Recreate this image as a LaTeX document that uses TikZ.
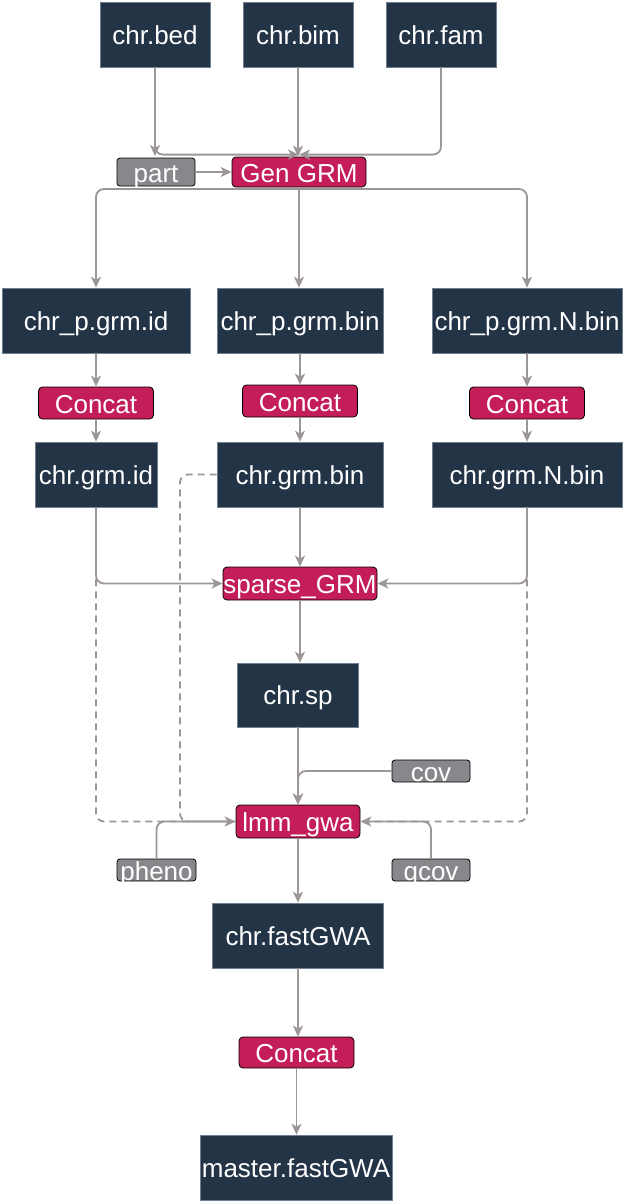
\documentclass[tikz,border=0pt]{standalone}
\usepackage{fontspec}
\setmainfont{Liberation Sans}
\usetikzlibrary{arrows.meta}
\definecolor{navy}{HTML}{243447}
\definecolor{mag}{HTML}{C41E5A}
\definecolor{gbox}{HTML}{88888C}
\definecolor{lnc}{HTML}{9C9696}
\definecolor{nborder}{HTML}{6F7F8F}
\tikzset{
  txt/.style={text=white, font=\fontsize{26}{28}\selectfont, inner sep=0pt},
  dbox/.style={txt, fill=navy, draw=nborder, line width=0.6pt, text height=19pt, text depth=0pt},
  pbox/.style={txt, fill=mag, draw=black, line width=0.8pt, rounded corners=4pt, text height=20pt, text depth=0pt},
  gbx/.style={txt, fill=gbox, draw=black, line width=0.8pt, rounded corners=3pt, text height=20pt, text depth=0pt},
  arr/.style={draw=lnc, line width=1.8pt, -{Stealth[length=11pt,width=10pt,inset=3pt]}, rounded corners=8pt},
  dsh/.style={draw=lnc, line width=1.8pt, dash pattern=on 7pt off 5pt, rounded corners=8pt},
}
\begin{document}
\begin{tikzpicture}[x=1pt,y=-1pt]
\useasboundingbox (0,0) rectangle (622,1203);
% nodes
\node[dbox, minimum width=110pt, minimum height=65pt] (bed) at (155,34.5) {chr.bed};
\node[dbox, minimum width=110pt, minimum height=65pt] (bim) at (298,34.5) {chr.bim};
\node[dbox, minimum width=110pt, minimum height=65pt] (fam) at (441,34.5) {chr.fam};
\node[gbx, minimum width=78pt, minimum height=28pt] (part) at (156,172) {part};
\node[pbox, minimum width=134pt, minimum height=30pt] (gen) at (299,172) {Gen GRM};
\node[dbox, minimum width=188pt, minimum height=65pt] (pid) at (96,320.5) {chr\_p.grm.id};
\node[dbox, minimum width=166pt, minimum height=65pt] (pbin) at (300,320.5) {chr\_p.grm.bin};
\node[dbox, minimum width=190pt, minimum height=65pt] (pnbin) at (527,320.5) {chr\_p.grm.N.bin};
\node[pbox, minimum width=115pt, minimum height=32pt] (c1) at (96,403) {Concat};
\node[pbox, minimum width=115pt, minimum height=32pt] (c2) at (300,401) {Concat};
\node[pbox, minimum width=115pt, minimum height=32pt] (c3) at (527,403) {Concat};
\node[dbox, minimum width=122pt, minimum height=65pt] (gid) at (96,474.5) {chr.grm.id};
\node[dbox, minimum width=166pt, minimum height=65pt] (gbin) at (300,474.5) {chr.grm.bin};
\node[dbox, minimum width=190pt, minimum height=65pt] (gnbin) at (527,474.5) {chr.grm.N.bin};
\node[pbox, minimum width=154pt, minimum height=33pt] (sparse) at (300,583.5) {sparse\_GRM};
\node[dbox, minimum width=121pt, minimum height=64pt] (sp) at (298,695) {chr.sp};
\node[gbx, minimum width=78pt, minimum height=22pt] (cov) at (431,771) {cov};
\node[pbox, minimum width=124pt, minimum height=33pt] (lmm) at (298,821.5) {lmm\_gwa};
\node[gbx, minimum width=79pt, minimum height=22pt] (pheno) at (156.5,870) {pheno};
\node[gbx, minimum width=78pt, minimum height=22pt] (qcov) at (431,870) {qcov};
\node[dbox, minimum width=171pt, minimum height=65pt] (fgwa) at (298,935.5) {chr.fastGWA};
\node[pbox, minimum width=115pt, minimum height=31pt] (c4) at (296.5,1052.5) {Concat};
\node[dbox, minimum width=192pt, minimum height=65pt] (master) at (296,1167.5) {master.fastGWA};
% connectors
\draw[arr] (bed.south) -- (bed.south |- 0,156);
\draw[arr] (bed.south) |- ([yshift=2pt]gen.north);
\draw[arr] (fam.south) |- ([yshift=2pt]gen.north);
\draw[arr] (bim.south) -- (bim.south |- gen.north);
\draw[arr] (part.east) -- (gen.west);
\draw[arr] (gen.south |- 0,189) -| (pid.north);
\draw[arr] (gen.south |- 0,189) -| (pnbin.north);
\draw[arr] (gen.south) -- (gen.south |- pbin.north);
\draw[arr] (pid.south) -- (pid.south |- c1.north);
\draw[arr] (pbin.south) -- (pbin.south |- c2.north);
\draw[arr] (pnbin.south) -- (pnbin.south |- c3.north);
\draw[arr] (c1.south) -- (c1.south |- gid.north);
\draw[arr] (c2.south) -- (c2.south |- gbin.north);
\draw[arr] (c3.south) -- (c3.south |- gnbin.north);
\draw[arr] (gid.south) |- (sparse.west);
\draw[arr] (gbin.south) -- (sparse.north);
\draw[arr] (gnbin.south) |- (sparse.east);
\draw[dsh] (gid.south) |- (lmm.west);
\draw[dsh] (gbin.west) -- (180,474.5) |- (lmm.west);
\draw[dsh] (gnbin.south) |- (lmm.east);
\draw[arr] (sparse.south) -- (sparse.south |- sp.north);
\draw[arr] (sp.south) -- (lmm.north);
\draw[arr] (cov.west) -| (lmm.north);
\draw[arr] (pheno.north) |- (lmm.west);
\draw[arr] (qcov.north) |- (lmm.east);
\draw[arr] (lmm.south) -- (fgwa.north);
\draw[arr] (fgwa.south) -- (fgwa.south |- c4.north);
\draw[arr] (c4.south) -- (c4.south |- master.north);
\end{tikzpicture}
\end{document}
